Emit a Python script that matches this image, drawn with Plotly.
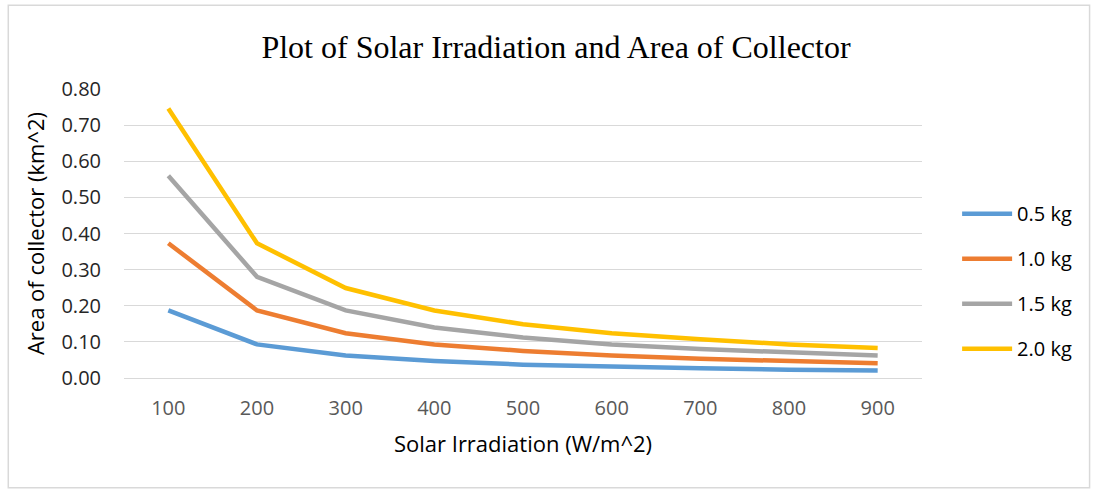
import plotly.graph_objects as go

# Solar irradiation levels (W/m^2) on the category axis
irradiation = ["100", "200", "300", "400", "500", "600", "700", "800", "900"]

# Collector area (km^2) needed for each mass
area_05kg = [0.187, 0.093, 0.062, 0.047, 0.037, 0.031, 0.027, 0.023, 0.021]
area_10kg = [0.373, 0.187, 0.124, 0.093, 0.075, 0.062, 0.053, 0.047, 0.041]
area_15kg = [0.560, 0.280, 0.187, 0.140, 0.112, 0.093, 0.080, 0.070, 0.062]
area_20kg = [0.746, 0.373, 0.249, 0.187, 0.149, 0.124, 0.107, 0.093, 0.083]

series = [
    ("0.5 kg", area_05kg, "#5B9BD5"),
    ("1.0 kg", area_10kg, "#ED7D31"),
    ("1.5 kg", area_15kg, "#A5A5A5"),
    ("2.0 kg", area_20kg, "#FFC000"),
]

y_ticks = [0.0, 0.1, 0.2, 0.3, 0.4, 0.5, 0.6, 0.7, 0.8]

fig = go.Figure()
for name, values, color in series:
    fig.add_trace(go.Scatter(
        x=irradiation, y=values, name=name, mode="lines",
        legendgroup=name,
        line=dict(color=color, width=4.5),
    ))

body_font = "Open Sans, Calibri, Carlito, sans-serif"

fig.update_layout(
    width=1101, height=492,
    margin=dict(l=124, r=179, t=89, b=114),
    paper_bgcolor="white",
    plot_bgcolor="white",
    title=dict(
        text="Plot of Solar Irradiation and Area of Collector",
        x=0.505, xanchor="center", y=0.905, yanchor="middle",
        font=dict(family="Liberation Serif, Times New Roman, serif", size=32, color="#000000"),
    ),
    xaxis=dict(
        type="category",
        range=[-0.5, 8.5],
        showgrid=False,
        showline=False,
        ticks="",
        tickfont=dict(family=body_font, size=20, color="#595959"),
        ticklabelstandoff=16,
        title=dict(text="Solar Irradiation (W/m^2)", standoff=16,
                   font=dict(family=body_font, size=22, color="#000000")),
    ),
    yaxis=dict(
        range=[0, 0.8],
        tickvals=y_ticks,
        tickformat=".2f",
        showgrid=True,
        gridcolor="#D9D9D9",
        gridwidth=1.3,
        zeroline=True,
        zerolinecolor="#D9D9D9",
        zerolinewidth=1.3,
        showline=False,
        ticks="",
        ticklabelstandoff=22,
        tickfont=dict(family=body_font, size=20, color="#262626"),
        title=dict(text="Area of collector (km^2)", standoff=10,
                   font=dict(family=body_font, size=22, color="#000000")),
    ),
    legend=dict(
        x=1.044, xanchor="left", y=0.335, yanchor="middle",
        font=dict(family=body_font, size=20, color="#000000"),
        tracegroupgap=16,
        itemwidth=50,
        bgcolor="rgba(0,0,0,0)",
    ),
    shapes=[dict(
        type="rect", xref="paper", yref="paper",
        x0=-0.145, x1=1.21, y0=-0.38, y1=1.29,
        line=dict(color="#D9D9D9", width=1.5),
        fillcolor="rgba(0,0,0,0)", layer="below",
    )],
)

fig.write_html("out.html")
